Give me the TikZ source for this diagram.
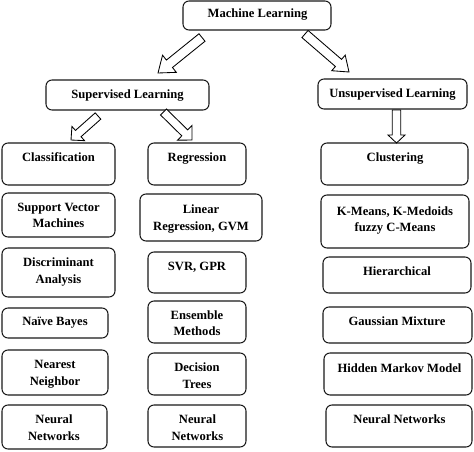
\documentclass[tikz,border=0pt]{standalone}
\usepackage{fontspec}
\setmainfont{Liberation Serif}
\usetikzlibrary{calc}
\newcommand\harrow[5]{%
  \coordinate (hb) at ($(#2)!#5!(#1)$);
  \draw[arr] ($(#1)!#3!90:(#2)$) -- ($(hb)!#3!90:(#2)$) -- ($(hb)!#4!90:(#2)$) -- (#2)
    -- ($(hb)!#4!-90:(#2)$) -- ($(hb)!#3!-90:(#2)$) -- ($(#1)!#3!-90:(#2)$) -- cycle;}
\begin{document}
\begin{tikzpicture}[x=1pt,y=-1pt,
  bx/.style={draw=black!90,line width=1.05pt,rounded corners=6pt,inner sep=0pt},
  tx/.style={font=\fontsize{12.6}{16.5}\selectfont\bfseries,align=center,inner sep=0pt},
  arr/.style={draw=black,line width=0.85pt,fill=white,line join=miter}]
\useasboundingbox (0,0) rectangle (474,451);
% boxes
\node[bx,minimum width=148pt,minimum height=29pt] (ml) at (257,15.5) {};
\node[bx,minimum width=163pt,minimum height=30pt] (sl) at (127.5,95) {};
\node[bx,minimum width=149pt,minimum height=30pt] (ul) at (392.5,94) {};
\node[bx,minimum width=113pt,minimum height=42pt] (cls) at (58.5,164) {};
\node[bx,minimum width=113pt,minimum height=44pt] (svm) at (58.5,215) {};
\node[bx,minimum width=113pt,minimum height=49pt] (da) at (58.5,272.5) {};
\node[bx,minimum width=106pt,minimum height=30pt] (nb) at (55,323) {};
\node[bx,minimum width=106pt,minimum height=45pt] (nn) at (55,372.5) {};
\node[bx,minimum width=105pt,minimum height=44pt] (nnetA) at (54.5,427) {};
\node[bx,minimum width=98pt,minimum height=42pt] (reg) at (197,164) {};
\node[bx,minimum width=122pt,minimum height=47pt] (lin) at (201,217.5) {};
\node[bx,minimum width=98pt,minimum height=41pt] (svr) at (197,272.5) {};
\node[bx,minimum width=98pt,minimum height=42pt] (ens) at (197,322) {};
\node[bx,minimum width=98pt,minimum height=42pt] (dt) at (197,374) {};
\node[bx,minimum width=98pt,minimum height=42pt] (nnetB) at (197,426) {};
\node[bx,minimum width=147pt,minimum height=42pt] (clu) at (394.5,164) {};
\node[bx,minimum width=148pt,minimum height=53pt] (km) at (395,221.5) {};
\node[bx,minimum width=148pt,minimum height=36pt] (hi) at (397,275) {};
\node[bx,minimum width=149pt,minimum height=36pt] (gm) at (397.5,325) {};
\node[bx,minimum width=148pt,minimum height=42pt] (hmm) at (398,374) {};
\node[bx,minimum width=146pt,minimum height=42pt] (nnetC) at (399,426) {};
% texts
\node[tx] (tml) at (257.5,14) {\strut Machine Learning};
\node[tx] (tsl) at (127.5,95) {\strut Supervised Learning};
\node[tx] (tul) at (392.5,94) {\strut Unsupervised Learning};
\node[tx] (tcls) at (58.5,158.5) {\strut Classification};
\node[tx] (tsvm) at (58.5,216) {\strut Support Vector\\\strut Machines};
\node[tx] (tda) at (58.5,271.75) {\strut Discriminant\\\strut Analysis};
\node[tx] (tnb) at (55,322.5) {\strut Naïve Bayes};
\node[tx] (tnn) at (55,373.5) {\strut Nearest\\\strut Neighbor};
\node[tx] (tnnetA) at (54,428.5) {\strut Neural\\\strut Networks};
\node[tx] (treg) at (197,158.5) {\strut Regression};
\node[tx] (tlin) at (201,218.5) {\strut Linear\\\strut Regression, GVM};
\node[tx] (tsvr) at (197,267) {\strut SVR, GPR};
\node[tx] (tens) at (197,324) {\strut Ensemble\\\strut Methods};
\node[tx] (tdt) at (197,376.5) {\strut Decision\\\strut Trees};
\node[tx] (tnnetB) at (197.5,428.5) {\strut Neural\\\strut Networks};
\node[tx] (tclu) at (395,158.5) {\strut Clustering};
\node[tx] (tkm) at (395,220) {\strut K-Means, K-Medoids\\\strut fuzzy C-Means};
\node[tx] (thi) at (397,272) {\strut Hierarchical};
\node[tx] (tgm) at (397,322) {\strut Gaussian Mixture};
\node[tx] (thmm) at (399.5,369.5) {\strut Hidden Markov Model};
\node[tx] (tnnetC) at (399.5,420) {\strut Neural Networks};
% arrow end points
\coordinate (a1s) at (202,37.5);  \coordinate (a1t) at (158,73);
\coordinate (a2s) at (305,34);    \coordinate (a2t) at (349,72);
\coordinate (a3s) at (98,116);    \coordinate (a3t) at (71,140);
\coordinate (a4s) at (163.5,112); \coordinate (a4t) at (192,140);
\coordinate (a5s) at (396.5,110); \coordinate (a5t) at (396.5,143);
\harrow{a1s}{a1t}{4.8pt}{11pt}{14.7pt}
\harrow{a2s}{a2t}{4.7pt}{10.3pt}{13.9pt}
\harrow{a3s}{a3t}{4.2pt}{9.5pt}{9.7pt}
\harrow{a4s}{a4t}{4.2pt}{10.3pt}{10.2pt}
\harrow{a5s}{a5t}{4.3pt}{8.5pt}{8pt}
\end{tikzpicture}
\end{document}
